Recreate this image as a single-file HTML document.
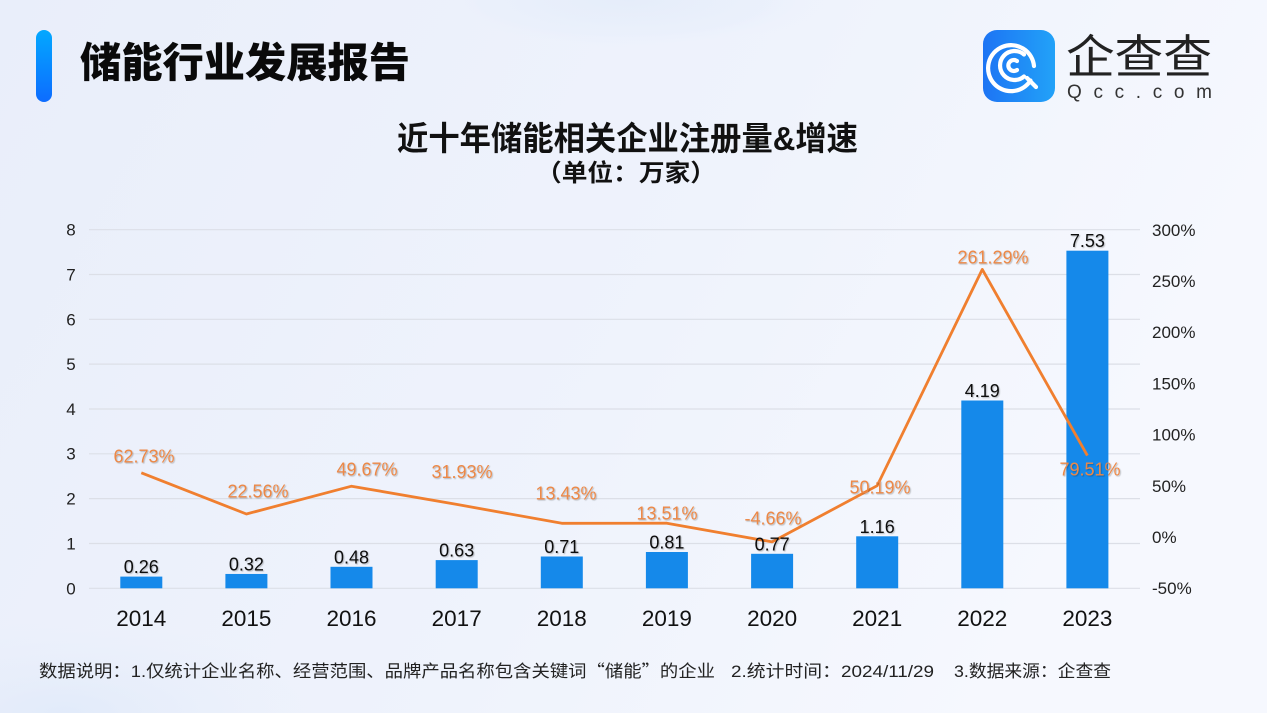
<!DOCTYPE html>
<html><head><meta charset="utf-8"><style>
html,body{margin:0;padding:0;width:1267px;height:713px;overflow:hidden;background:#EEF2FB}
svg{display:block;overflow:hidden}
text{font-family:"Liberation Sans","Noto Sans CJK SC",sans-serif}
</style></head><body>
<svg width="1267" height="713" viewBox="0 0 1267 713" xmlns="http://www.w3.org/2000/svg">
<defs>
<linearGradient id="bg" x1="0" y1="0" x2="1" y2="0.3">
<stop offset="0" stop-color="#E9EEFA"/><stop offset="0.6" stop-color="#EFF3FC"/><stop offset="1" stop-color="#F6F8FE"/>
</linearGradient>
<radialGradient id="blob" cx="0.5" cy="0" r="0.5">
<stop offset="0" stop-color="#E4ECFA" stop-opacity="0.9"/><stop offset="0.7" stop-color="#E8EFFB" stop-opacity="0.6"/><stop offset="1" stop-color="#EEF2FB" stop-opacity="0"/>
</radialGradient>
<radialGradient id="blob2" cx="0.15" cy="1" r="0.6">
<stop offset="0" stop-color="#DDE8FA" stop-opacity="0.7"/><stop offset="1" stop-color="#E6EDFA" stop-opacity="0"/>
</radialGradient>
<linearGradient id="bar" x1="0" y1="0" x2="0" y2="1">
<stop offset="0" stop-color="#03A8FF"/><stop offset="1" stop-color="#0D6CFF"/>
</linearGradient>
<linearGradient id="logo" x1="0" y1="0" x2="1" y2="0">
<stop offset="0" stop-color="#1D74F4"/><stop offset="1" stop-color="#22A2F8"/>
</linearGradient>
<filter id="sh" x="-10%" y="-30%" width="130%" height="160%">
<feDropShadow dx="1" dy="1" stdDeviation="0.6" flood-color="#000" flood-opacity="0.25"/>
</filter>
</defs>
<rect width="1267" height="713" fill="url(#bg)"/>
<rect x="428" y="0" width="400" height="100" fill="url(#blob)"/>
<rect x="0" y="560" width="420" height="153" fill="url(#blob2)"/>

<!-- header -->
<rect x="36" y="30" width="16" height="72" rx="8" fill="url(#bar)"/>
<text x="80" y="77" font-size="41" font-weight="900" fill="#0A0A0A" textLength="330" lengthAdjust="spacingAndGlyphs">储能行业发展报告</text>

<!-- logo -->
<rect x="983" y="30" width="72" height="72" rx="14" fill="url(#logo)"/>
<g fill="none" stroke="#fff" stroke-width="4.2" stroke-linecap="round">
<path d="M1030.5 80.5 A23 23 0 1 1 1034 66"/>
<path d="M1027 78 L1036 87"/>
<path d="M1024 54.5 A14.5 14.5 0 1 0 1024 76.5"/>
<path d="M1017 61 A5.5 5.5 0 1 0 1017 70"/>
</g>
<text x="1066" y="73" font-size="46" fill="#222" textLength="146" lengthAdjust="spacingAndGlyphs">企查查</text>
<text x="1067" y="98" font-size="19" fill="#333" textLength="145" lengthAdjust="spacing">Qcc.com</text>

<!-- titles -->
<text x="397" y="150" font-size="33" font-weight="bold" fill="#111" textLength="461" lengthAdjust="spacingAndGlyphs">近十年储能相关企业注册量&amp;增速</text>
<text x="536" y="181" font-size="24" font-weight="bold" fill="#111" textLength="180" lengthAdjust="spacingAndGlyphs">（单位：万家）</text>

<!-- grid -->
<g stroke="#DCDFE7" stroke-width="1.2">
<line x1="89" x2="1140" y1="588.3" y2="588.3"/>
<line x1="89" x2="1140" y1="543.5" y2="543.5"/>
<line x1="89" x2="1140" y1="498.6" y2="498.6"/>
<line x1="89" x2="1140" y1="453.8" y2="453.8"/>
<line x1="89" x2="1140" y1="409" y2="409"/>
<line x1="89" x2="1140" y1="364.1" y2="364.1"/>
<line x1="89" x2="1140" y1="319.3" y2="319.3"/>
<line x1="89" x2="1140" y1="274.5" y2="274.5"/>
<line x1="89" x2="1140" y1="229.7" y2="229.7"/>
</g>

<!-- left axis -->
<g font-size="17" fill="#222" text-anchor="middle">
<text x="71" y="594.5">0</text>
<text x="71" y="549.5">1</text>
<text x="71" y="504.5">2</text>
<text x="71" y="459.5">3</text>
<text x="71" y="415">4</text>
<text x="71" y="370">5</text>
<text x="71" y="325.5">6</text>
<text x="71" y="280.5">7</text>
<text x="71" y="235.5">8</text>
</g>
<!-- right axis -->
<g font-size="17" fill="#222">
<text x="1152" y="594">-50%</text>
<text x="1152" y="543">0%</text>
<text x="1152" y="491.8">50%</text>
<text x="1152" y="440.6">100%</text>
<text x="1152" y="389.5">150%</text>
<text x="1152" y="338">200%</text>
<text x="1152" y="287">250%</text>
<text x="1152" y="236">300%</text>
</g>

<!-- bars -->
<g fill="#1589EA">
<rect x="120.3" y="576.6" width="42" height="11.7"/>
<rect x="225.4" y="573.95" width="42" height="14.35"/>
<rect x="330.5" y="566.8" width="42" height="21.5"/>
<rect x="435.7" y="560.1" width="42" height="28.2"/>
<rect x="540.8" y="556.5" width="42" height="31.8"/>
<rect x="645.9" y="552" width="42" height="36.3"/>
<rect x="751.1" y="553.8" width="42" height="34.5"/>
<rect x="856.2" y="536.3" width="42" height="52"/>
<rect x="961.3" y="400.5" width="42" height="187.8"/>
<rect x="1066.4" y="250.7" width="42" height="337.6"/>
</g>

<!-- x labels -->
<g font-size="22.5" fill="#111" text-anchor="middle">
<text x="141.3" y="626">2014</text>
<text x="246.4" y="626">2015</text>
<text x="351.5" y="626">2016</text>
<text x="456.7" y="626">2017</text>
<text x="561.8" y="626">2018</text>
<text x="666.9" y="626">2019</text>
<text x="772.1" y="626">2020</text>
<text x="877.2" y="626">2021</text>
<text x="982.3" y="626">2022</text>
<text x="1087.4" y="626">2023</text>
</g>

<!-- line -->
<polyline fill="none" stroke="#F07F2F" stroke-width="2.8" stroke-linejoin="round" points="141.3,472.8 246.4,514 351.5,486.2 456.7,504.4 561.8,523.3 666.9,523.2 772.1,541.9 877.2,485.7 982.3,269.4 1087.4,455.6"/>

<!-- bar labels -->
<g font-size="18" fill="#111" text-anchor="middle" filter="url(#sh)">
<text x="141.3" y="573">0.26</text>
<text x="246.4" y="570.5">0.32</text>
<text x="351.5" y="563.3">0.48</text>
<text x="456.7" y="556.6">0.63</text>
<text x="561.8" y="553">0.71</text>
<text x="666.9" y="548.5">0.81</text>
<text x="772.1" y="550.3">0.77</text>
<text x="877.2" y="532.8">1.16</text>
<text x="982.3" y="397">4.19</text>
<text x="1087.4" y="247.2">7.53</text>
</g>

<!-- line labels -->
<g font-size="18" fill="#EC8846" text-anchor="middle" filter="url(#sh)">
<text x="144" y="462.5">62.73%</text>
<text x="258" y="497.5">22.56%</text>
<text x="367" y="475.5">49.67%</text>
<text x="462" y="478">31.93%</text>
<text x="566" y="499.5">13.43%</text>
<text x="667" y="519.5">13.51%</text>
<text x="773" y="524.5">-4.66%</text>
<text x="880" y="493.5">50.19%</text>
<text x="993" y="263.5">261.29%</text>
<text x="1090" y="475.5">79.51%</text>
</g>

<!-- footer -->
<g font-size="17" fill="#222">
<text x="39" y="677" textLength="676" lengthAdjust="spacingAndGlyphs">数据说明：1.仅统计企业名称、经营范围、品牌产品名称包含关键词<tspan font-family="'Noto Sans CJK SC',sans-serif">“</tspan>储能<tspan font-family="'Noto Sans CJK SC',sans-serif">”</tspan>的企业</text>
<text x="731" y="677" textLength="203" lengthAdjust="spacingAndGlyphs">2.统计时间：2024/11/29</text>
<text x="954" y="677" textLength="157" lengthAdjust="spacingAndGlyphs">3.数据来源：企查查</text>
</g>
</svg>
</body></html>
